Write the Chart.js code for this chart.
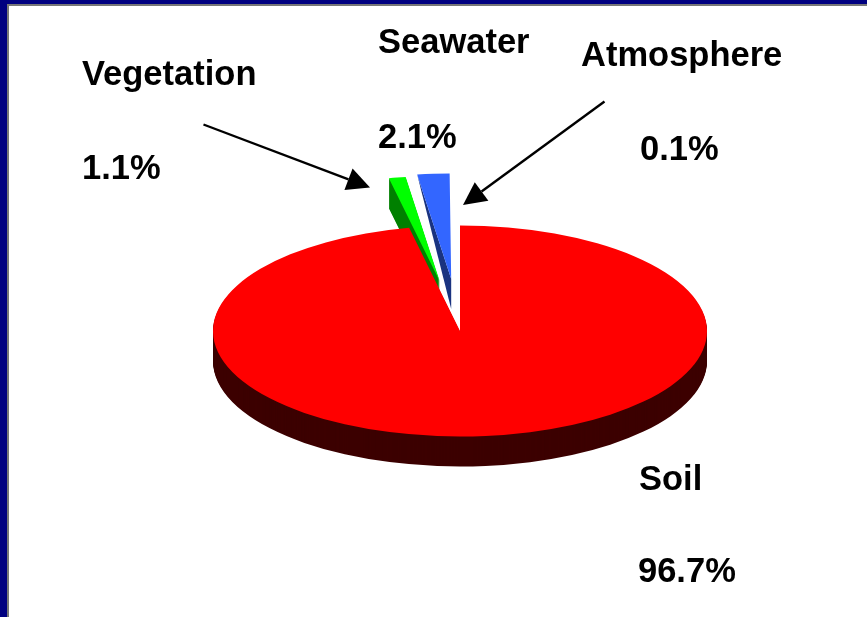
<!DOCTYPE html>
<html>
<head>
<meta charset="utf-8">
<title>Carbon reservoirs</title>
<script src="https://cdn.jsdelivr.net/npm/chart.js@4"></script>
<style>
    html, body { margin: 0; padding: 0; background: #000080; }
    #frame {
        position: absolute; left: 7px; top: 4px; width: 858px; height: 611px;
        background: #fff; border-left: 2px solid #777; border-top: 2px solid #777;
    }
    #wrap { position: absolute; left: 0; top: 0; width: 867px; height: 617px; }
</style>
</head>
<body>
<div id="frame"></div>
<div id="wrap"><canvas id="pie" width="867" height="617"></canvas></div>
<script>
// Drawn clockwise, Soil last so that it lands on top of the others
const categories = ['Vegetation', 'Seawater', 'Atmosphere', 'Soil'];
const shares = [1.1, 2.1, 0.1, 96.7];

const faceColors = ['#00ff00', '#3366ff', '#ffffff', '#ff0000'];
const wallColors = ['#008000', '#1a3380', '#ffffff', '#3c0000'];
const explodeBy = [118, 122, 122, 0];

const labelSpots = [
    { x: 82, y: 85, y2: 179 },
    { x: 378, y: 53, y2: 148 },
    { x: 581, y: 66, x2: 640, y2: 160 },
    { x: 639, y: 490, x2: 638, y2: 582 }
];
const arrows = [
    { from: [203.5, 124.5], to: [370, 187.5] },
    { from: [604.5, 101.5], to: [463, 205] }
];

const RADIUS = 247;
const SQUASH = 0.427;
const DEPTH = 30;

function squash(ctx, area) {
    const cx = (area.left + area.right) / 2;
    const cy = (area.top + area.bottom) / 2;
    ctx.translate(cx, cy);
    ctx.scale(1, SQUASH);
    ctx.translate(-cx, -cy);
}

function drawWall(chart, arc, color) {
    const ctx = chart.ctx;
    const saved = arc.options;
    arc.options = { backgroundColor: color, borderColor: color, borderWidth: 0, borderRadius: 0, offset: 0, spacing: 0, circular: true, borderAlign: 'center' };
    for (let d = DEPTH; d > 0; d--) {
        ctx.save();
        ctx.translate(0, d);
        squash(ctx, chart.chartArea);
        arc.draw(ctx);
        ctx.restore();
    }
    arc.options = saved;
}

// The seawater wall is only a sliver from the outer corner to the dropped apex
function drawSliver(chart, arc, color) {
    const ctx = chart.ctx;
    const cy = (chart.chartArea.top + chart.chartArea.bottom) / 2;
    const ay = cy + (arc.y - cy) * SQUASH;
    ctx.fillStyle = color;
    ctx.beginPath();
    ctx.moveTo(arc.x + Math.cos(arc.startAngle) * RADIUS, ay + Math.sin(arc.startAngle) * RADIUS * SQUASH);
    ctx.lineTo(arc.x, ay);
    ctx.lineTo(arc.x, ay + DEPTH);
    ctx.closePath();
    ctx.fill();
}

const tiltPlugin = {
    id: 'tilt',
    afterDatasetsUpdate(chart) {
        // pull the thin slices out of the pie along their middle angle
        chart.getDatasetMeta(0).data.forEach((arc, i) => {
            const mid = (arc.startAngle + arc.endAngle) / 2;
            arc.x += Math.cos(mid) * explodeBy[i];
            arc.y += Math.sin(mid) * explodeBy[i];
        });
    },
    beforeDatasetsDraw(chart) {
        const arcs = chart.getDatasetMeta(0).data;
        arcs.forEach((arc, i) => {
            if (categories[i] === 'Seawater') {
                drawSliver(chart, arc, wallColors[i]);
            } else {
                drawWall(chart, arc, wallColors[i]);
            }
        });
        chart.ctx.save();
        squash(chart.ctx, chart.chartArea);
    },
    afterDatasetsDraw(chart) {
        chart.ctx.restore();
    }
};

const notesPlugin = {
    id: 'notes',
    afterDraw(chart) {
        const ctx = chart.ctx;
        ctx.save();
        ctx.fillStyle = '#000';
        ctx.strokeStyle = '#000';
        ctx.font = 'bold 34.5px "Liberation Sans", Arial, sans-serif';
        ctx.textBaseline = 'alphabetic';
        categories.forEach((name, i) => {
            const spot = labelSpots[i];
            ctx.fillText(name, spot.x, spot.y);
            ctx.fillText(shares[i] + '%', spot.x2 || spot.x, spot.y2);
        });
        arrows.forEach((a) => {
            const angle = Math.atan2(a.to[1] - a.from[1], a.to[0] - a.from[0]);
            const back = [a.to[0] - Math.cos(angle) * 23, a.to[1] - Math.sin(angle) * 23];
            ctx.lineWidth = 2.4;
            ctx.beginPath();
            ctx.moveTo(a.from[0], a.from[1]);
            ctx.lineTo(back[0], back[1]);
            ctx.stroke();
            ctx.beginPath();
            ctx.moveTo(a.to[0], a.to[1]);
            ctx.lineTo(back[0] - Math.sin(angle) * 11.5, back[1] + Math.cos(angle) * 11.5);
            ctx.lineTo(back[0] + Math.sin(angle) * 11.5, back[1] - Math.cos(angle) * 11.5);
            ctx.closePath();
            ctx.fill();
        });
        ctx.restore();
    }
};

const others = shares.slice(0, 3).reduce((sum, v) => sum + v, 0);

new Chart(document.getElementById('pie').getContext('2d'), {
    type: 'pie',
    data: {
        labels: categories,
        datasets: [{
            data: shares,
            backgroundColor: faceColors,
            borderWidth: 0,
            clip: false
        }]
    },
    options: {
        responsive: false,
        animation: false,
        radius: RADIUS,
        rotation: -others / 100 * 360,
        layout: { padding: { left: 53, top: 45 } },
        events: [],
        plugins: {
            legend: { display: false },
            tooltip: { enabled: false }
        }
    },
    plugins: [tiltPlugin, notesPlugin]
});
</script>
</body>
</html>
